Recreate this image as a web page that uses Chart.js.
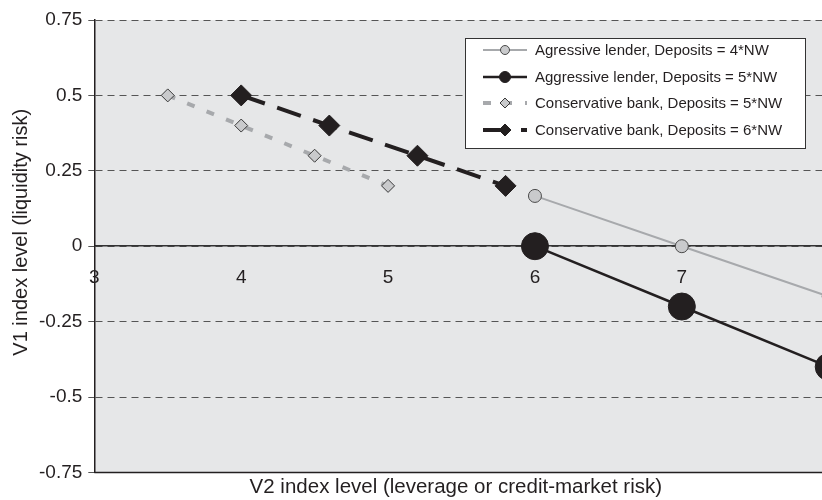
<!DOCTYPE html>
<html lang="en">
<head>
  <meta charset="UTF-8">
  <title>V1 vs V2 index level</title>
  <script src="https://cdn.jsdelivr.net/npm/chart.js"></script>
  <style>
    body {
      margin: 0;
      background: #fff;
      overflow: hidden;
    }

    #wrap {
      width: 822px;
      height: 500px;
      overflow: hidden;
    }
  </style>
</head>
<body>

  <div id="wrap">
    <canvas id="chart" width="854" height="500"></canvas>
  </div>

  <script>
    // data
    const seriesNames = [
      'Agressive lender, Deposits = 4*NW',
      'Aggressive lender, Deposits = 5*NW',
      'Conservative bank, Deposits = 5*NW',
      'Conservative bank, Deposits = 6*NW'
    ];
    const aggr4X = [6, 7, 8];
    const aggr4Y = [0.1667, 0, -0.1667];
    const aggr5X = [6, 7, 8];
    const aggr5Y = [0, -0.2, -0.4];
    const cons5X = [3.5, 4, 4.5, 5];
    const cons5Y = [0.5, 0.4, 0.3, 0.2];
    const cons6X = [4, 4.6, 5.2, 5.8];
    const cons6Y = [0.5, 0.4, 0.3, 0.2];
    const yTickLabels = ['-0.75', '-0.5', '-0.25', '0', '0.25', '0.5', '0.75'];

    const font = "'Liberation Sans', Arial, sans-serif";
    const ink = '#231f20';

    function pts(xs, ys) {
      return xs.map((x, i) => ({ x: x, y: ys[i] }));
    }

    const datasets = [
      {
        label: seriesNames[0],
        data: pts(aggr4X, aggr4Y),
        borderColor: '#a7a9ac',
        borderWidth: 2,
        pointStyle: 'circle',
        pointRadius: 6.5,
        pointBackgroundColor: '#c9cacc',
        pointBorderColor: '#4a4a4a',
        pointBorderWidth: 1,
        legendRadius: 4.5
      },
      {
        label: seriesNames[1],
        data: pts(aggr5X, aggr5Y),
        borderColor: ink,
        borderWidth: 2.5,
        pointStyle: 'circle',
        pointRadius: 13.5,
        pointBackgroundColor: ink,
        pointBorderColor: ink,
        pointBorderWidth: 1,
        legendRadius: 5.5
      },
      {
        label: seriesNames[2],
        data: pts(cons5X, cons5Y),
        borderColor: '#a7a9ac',
        borderWidth: 4,
        borderDash: [8, 13],
        pointStyle: 'rectRot',
        pointRadius: 6.5,
        pointBackgroundColor: '#c9cacc',
        pointBorderColor: '#3a3a3a',
        pointBorderWidth: 1,
        legendRadius: 5
      },
      {
        label: seriesNames[3],
        data: pts(cons6X, cons6Y),
        borderColor: ink,
        borderWidth: 4,
        borderDash: [25, 13],
        pointStyle: 'rectRot',
        pointRadius: 10.5,
        pointBackgroundColor: ink,
        pointBorderColor: ink,
        pointBorderWidth: 1,
        legendRadius: 6
      }
    ];
    datasets.forEach(d => {
      d.showLine = true;
      d.fill = false;
      d.tension = 0;
      d.clip = false;
    });

    // grey plot area + solid bottom edge
    const plotArea = {
      id: 'plotArea',
      beforeDraw(chart) {
        const a = chart.chartArea;
        const ctx = chart.ctx;
        ctx.save();
        ctx.fillStyle = '#e6e7e8';
        ctx.fillRect(a.left, a.top, a.right - a.left, a.bottom - a.top);
        ctx.restore();
      },
      beforeDatasetsDraw(chart) {
        const a = chart.chartArea;
        const ctx = chart.ctx;
        ctx.save();
        ctx.strokeStyle = ink;
        ctx.lineWidth = 1.5;
        ctx.beginPath();
        ctx.moveTo(a.left, a.bottom);
        ctx.lineTo(a.right, a.bottom);
        ctx.stroke();
        ctx.restore();
      }
    };

    // boxed legend inside the plot, top right
    const boxLegend = {
      id: 'boxLegend',
      afterDraw(chart) {
        const ctx = chart.ctx;
        const bx = 465.5, by = 38.5, bw = 340, bh = 110;
        const rows = [50, 77, 103, 130];
        ctx.save();
        ctx.fillStyle = '#fff';
        ctx.fillRect(bx, by, bw, bh);
        ctx.strokeStyle = '#333';
        ctx.lineWidth = 1;
        ctx.strokeRect(bx, by, bw, bh);
        chart.data.datasets.forEach((d, i) => {
          const y = rows[i];
          ctx.save();
          ctx.strokeStyle = d.borderColor;
          ctx.lineWidth = d.borderWidth;
          ctx.setLineDash(d.borderDash || []);
          ctx.beginPath();
          ctx.moveTo(483, y);
          ctx.lineTo(527, y);
          ctx.stroke();
          ctx.restore();
          ctx.save();
          ctx.fillStyle = d.pointBackgroundColor;
          ctx.strokeStyle = d.pointBorderColor;
          ctx.lineWidth = 1;
          Chart.helpers.drawPoint(ctx, { pointStyle: d.pointStyle, radius: d.legendRadius, borderWidth: 1, rotation: 0 }, 505, y);
          ctx.restore();
          ctx.fillStyle = ink;
          ctx.font = '15px ' + font;
          ctx.textBaseline = 'middle';
          ctx.fillText(d.label, 535, y + 1);
        });
        ctx.restore();
      }
    };

    new Chart(document.getElementById('chart'), {
      type: 'scatter',
      data: { datasets: datasets },
      options: {
        responsive: false,
        animation: false,
        layout: { padding: { top: 20, right: 11, left: 5, bottom: 0 } },
        plugins: {
          legend: { display: false },
          tooltip: { enabled: false }
        },
        scales: {
          x: {
            type: 'linear',
            position: { y: 0 },
            min: 3,
            max: 8,
            ticks: {
              stepSize: 1,
              color: ink,
              padding: 20,
              font: { family: font, size: 19 }
            },
            grid: { display: false, drawTicks: false },
            border: { display: true, color: '#333', width: 1.5 }
          },
          xTitle: {
            type: 'linear',
            axis: 'x',
            position: 'bottom',
            min: 3,
            max: 8,
            ticks: { display: false },
            grid: { display: false, drawTicks: false },
            border: { display: false },
            title: {
              display: true,
              text: 'V2 index level (leverage or credit-market risk)  ',
              color: ink,
              font: { family: font, size: 20.5 },
              padding: { top: 3, bottom: 0 }
            }
          },
          y: {
            min: -0.75,
            max: 0.75,
            ticks: {
              stepSize: 0.25,
              color: ink,
              padding: 6,
              font: { family: font, size: 19 },
              callback: (v, i) => yTickLabels[i]
            },
            grid: {
              color: '#555',
              lineWidth: 1,
              tickLength: 6,
              tickColor: '#555'
            },
            border: { display: true, color: ink, width: 1.5, dash: [7, 5] },
            title: {
              display: true,
              text: '     V1 index level (liquidity risk)',
              color: ink,
              font: { family: font, size: 20 },
              padding: { top: 4, bottom: 0 }
            }
          }
        }
      },
      plugins: [plotArea, boxLegend]
    });
  </script>

</body>
</html>
